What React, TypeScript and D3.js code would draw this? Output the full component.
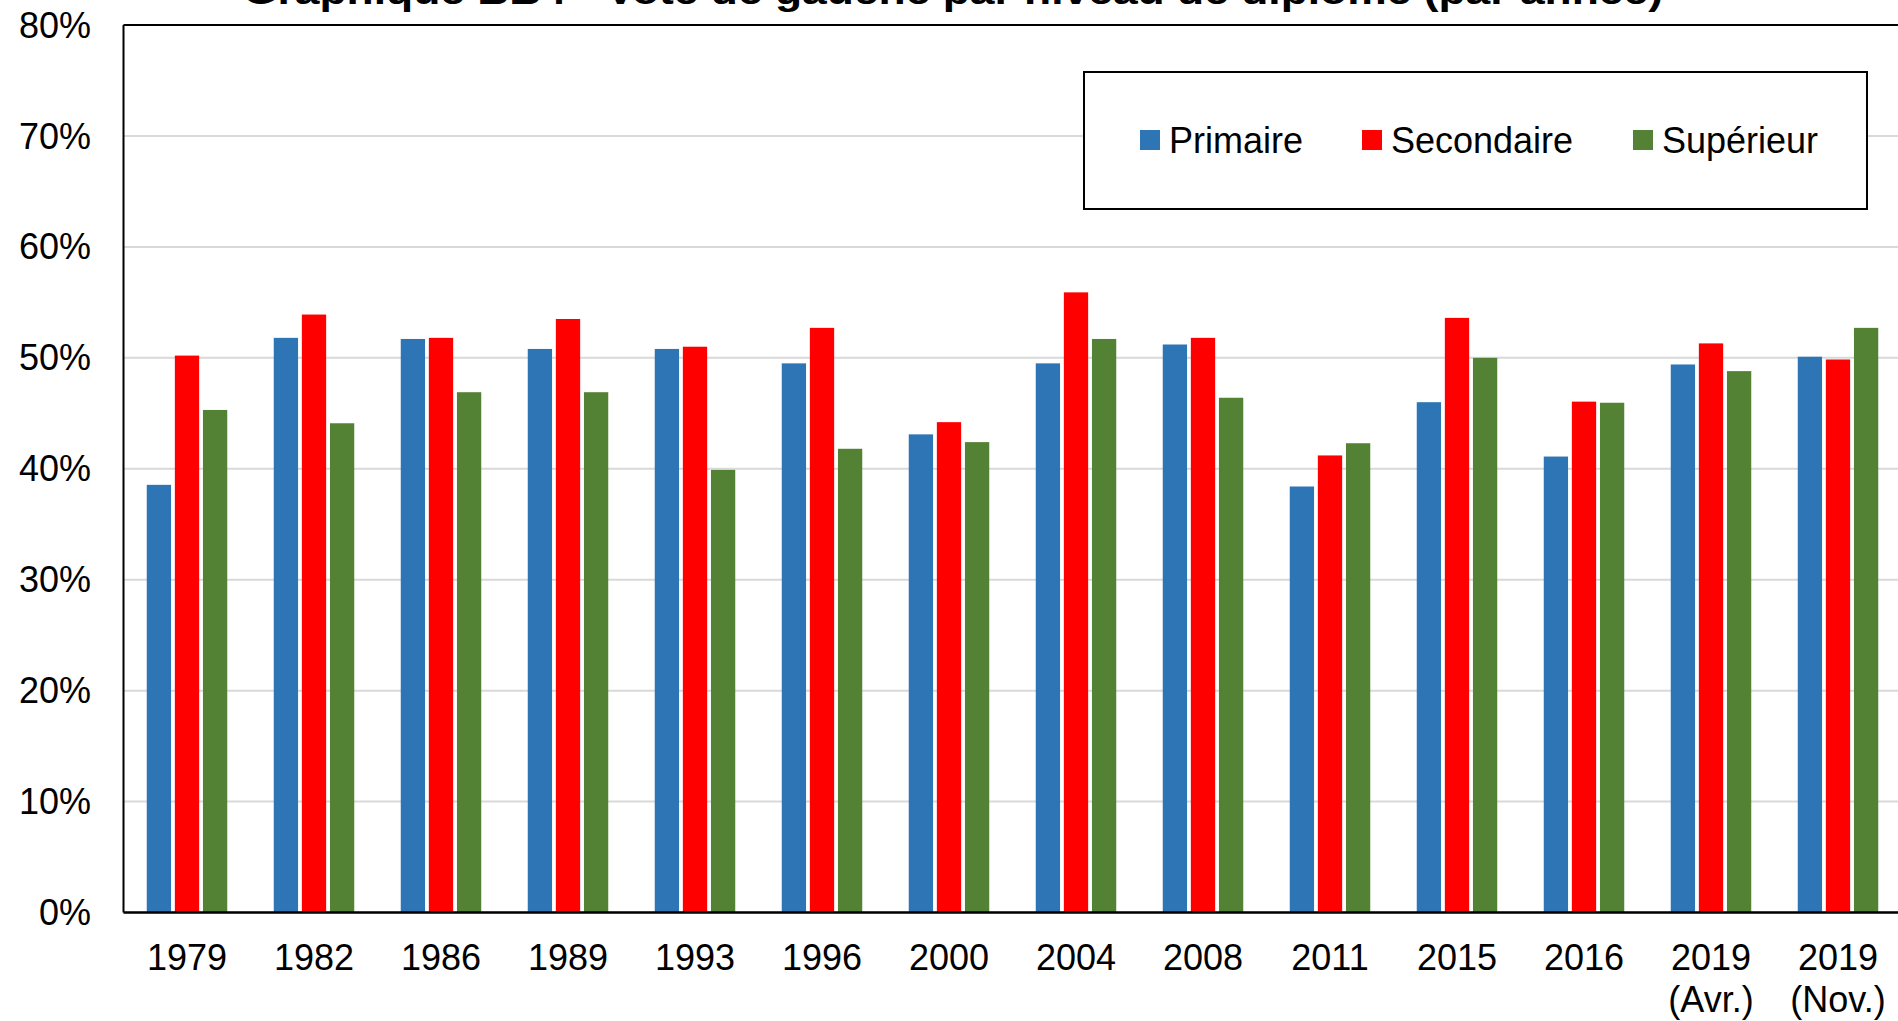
import React from "react";
import * as d3 from "d3";

const categories = ["1979", "1982", "1986", "1989", "1993", "1996", "2000", "2004", "2008", "2011", "2015", "2016", "2019 (Avr.)", "2019 (Nov.)"];
const categoryLine1 = ["1979", "1982", "1986", "1989", "1993", "1996", "2000", "2004", "2008", "2011", "2015", "2016", "2019", "2019"];
const categoryLine2 = ["", "", "", "", "", "", "", "", "", "", "", "", "(Avr.)", "(Nov.)"];

const primaire = [38.55, 51.8, 51.7, 50.8, 50.8, 49.5, 43.1, 49.5, 51.2, 38.4, 46.0, 41.1, 49.4, 50.1];
const secondaire = [50.2, 53.9, 51.8, 53.5, 51.0, 52.7, 44.2, 55.9, 51.8, 41.2, 53.6, 46.05, 51.3, 49.85];
const superieur = [45.3, 44.1, 46.9, 46.9, 39.9, 41.8, 42.4, 51.7, 46.4, 42.3, 50.0, 45.95, 48.8, 52.7];

const seriesNames = ["Primaire", "Secondaire", "Supérieur"];
const seriesColors = ["#2E75B6", "#FF0000", "#548235"];
const yTicks = [0, 10, 20, 30, 40, 50, 60, 70, 80];
const title = "Graphique BB4 - Vote de gauche par niveau de diplôme (par année)";

const W = 1898;
const H = 1021;
const FONT = "'Liberation Sans', Arial, sans-serif";

export default function App() {
  const left = 123.5;
  const bandW = 127;
  const top = 25;
  const bottom = 912.5;
  const x = d3.scaleBand<string>().domain(categories).range([left, left + bandW * categories.length]).padding(0);
  const y = d3.scaleLinear().domain([0, 80]).range([bottom, top]);
  const series = [primaire, secondaire, superieur];
  const barW = 24.3;
  const barStep = 28.1;

  return (
    <svg width={W} height={H} style={{ position: "absolute", left: 0, top: 0, background: "#fff" }} fontFamily={FONT}>
      <rect x={0} y={0} width={W} height={H} fill="#fff" />
      <text x={953} y={4} textAnchor="middle" fontSize={37} fontWeight="bold" fill="#000" textLength={1420} lengthAdjust="spacingAndGlyphs">
        {title}
      </text>
      {yTicks.map((t) => (
        <line key={"g" + t} x1={left} x2={W} y1={y(t)} y2={y(t)} stroke="#D9D9D9" strokeWidth={2} />
      ))}
      {series.map((vals, si) =>
        vals.map((v, i) => {
          const cx = (x(categories[i]) as number) + x.bandwidth() / 2;
          return (
            <rect
              key={si + "-" + i}
              x={cx + (si - 1) * barStep - barW / 2}
              y={y(v)}
              width={barW}
              height={y(0) - y(v)}
              fill={seriesColors[si]}
            />
          );
        })
      )}
      <line x1={left} x2={W} y1={top} y2={top} stroke="#000" strokeWidth={2} />
      <line x1={left} x2={left} y1={top} y2={bottom} stroke="#000" strokeWidth={2} />
      <line x1={left} x2={W} y1={bottom} y2={bottom} stroke="#000" strokeWidth={2.5} />
      {yTicks.map((t) => (
        <text key={"y" + t} x={91} y={y(t)} dy="0.35em" textAnchor="end" fontSize={36} fill="#000">
          {t + "%"}
        </text>
      ))}
      {categories.map((c, i) => {
        const cx = (x(c) as number) + x.bandwidth() / 2;
        return (
          <g key={"x" + i}>
            <text x={cx} y={970} textAnchor="middle" fontSize={36} fill="#000">
              {categoryLine1[i]}
            </text>
            {categoryLine2[i] && (
              <text x={cx} y={1012} textAnchor="middle" fontSize={36} fill="#000">
                {categoryLine2[i]}
              </text>
            )}
          </g>
        );
      })}
      <rect x={1084} y={72} width={783} height={137} fill="#fff" stroke="#000" strokeWidth={2} />
      {seriesNames.map((n, i) => {
        const sx = [1140, 1362, 1633][i];
        return (
          <g key={n}>
            <rect x={sx} y={130} width={20} height={20} fill={seriesColors[i]} />
            <text x={sx + 29} y={153} fontSize={36} fill="#000">
              {n}
            </text>
          </g>
        );
      })}
    </svg>
  );
}
